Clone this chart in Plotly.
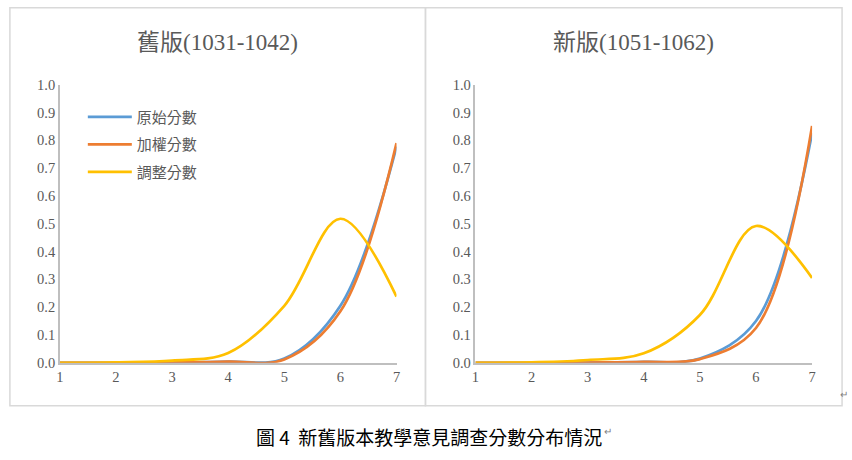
import plotly.graph_objects as go

# x 軸：分數 1~7
scores = [1, 2, 3, 4, 5, 6, 7]

# 舊版(1031-1042)
old_raw = [0.000, 0.000, 0.001, 0.004, 0.015, 0.205, 0.777]
old_weighted = [0.000, 0.000, 0.001, 0.004, 0.012, 0.185, 0.790]
old_adjusted = [0.000, 0.002, 0.008, 0.035, 0.205, 0.518, 0.238]

# 新版(1051-1062)
new_raw = [0.000, 0.000, 0.001, 0.003, 0.015, 0.150, 0.826]
new_weighted = [0.000, 0.000, 0.001, 0.003, 0.013, 0.125, 0.852]
new_adjusted = [0.000, 0.002, 0.010, 0.034, 0.172, 0.492, 0.305]

series_names = ["原始分數", "加權分數", "調整分數"]
series_colors = ["#5B9BD5", "#ED7D31", "#FFC000"]
panel_titles = ["舊版(1031-1042)", "新版(1051-1062)"]
y_ticks = [0.0, 0.1, 0.2, 0.3, 0.4, 0.5, 0.6, 0.7, 0.8, 0.9, 1.0]

W, H = 852, 460
SERIF = "Liberation Serif, Noto Sans CJK TC, serif"
GRAY = "#595959"


# 目標像素 -> paper 座標（含截圖縮放補償）
def px_x(p):
    return ((p - 4.1) / 0.9916) / W


def px_y(p):
    return 1 - ((p - 8.3) / 0.965) / H


fig = go.Figure()

panels = [
    (["x", "y"], [old_raw, old_weighted, old_adjusted], True),
    (["x2", "y2"], [new_raw, new_weighted, new_adjusted], False),
]
for (xa, ya), data, show in panels:
    for name, color, vals in zip(series_names, series_colors, data):
        fig.add_trace(go.Scatter(
            x=scores, y=vals, name=name, mode="lines",
            line=dict(color=color, width=2.7, shape="spline", smoothing=1.0),
            xaxis=xa, yaxis=ya, showlegend=show, legendgroup=name,
            hoverinfo="skip",
        ))

axis_common = dict(
    showgrid=False, zeroline=False, showline=True, linecolor="#BFBFBF", linewidth=1.5,
    ticks="", tickfont=dict(family=SERIF, size=14.5, color=GRAY),
)
ydom = [px_y(363), px_y(85)]
fig.update_layout(
    width=W, height=H,
    margin=dict(l=0, r=0, t=0, b=0),
    paper_bgcolor="white", plot_bgcolor="white",
    xaxis=dict(domain=[px_x(60), px_x(397)], range=[1, 7], dtick=1, anchor="y", **axis_common),
    yaxis=dict(domain=ydom, range=[0, 1.0], tickvals=y_ticks, tickformat=".1f", anchor="x", **axis_common),
    xaxis2=dict(domain=[px_x(476), px_x(813)], range=[1, 7], dtick=1, anchor="y2", **axis_common),
    yaxis2=dict(domain=ydom, range=[0, 1.0], tickvals=y_ticks, tickformat=".1f", anchor="x2", **axis_common),
    legend=dict(
        x=px_x(83), y=px_y(101), xanchor="left", yanchor="top",
        font=dict(family="Noto Sans CJK TC", size=15, color=GRAY),
        bgcolor="rgba(0,0,0,0)", tracegroupgap=5, traceorder="grouped", itemwidth=44,
    ),
    shapes=[
        dict(type="rect", xref="paper", yref="paper", x0=px_x(10), x1=px_x(426),
             y0=px_y(406), y1=px_y(8), line=dict(color="#D9D9D9", width=1.5)),
        dict(type="rect", xref="paper", yref="paper", x0=px_x(426), x1=px_x(843),
             y0=px_y(406), y1=px_y(8), line=dict(color="#D9D9D9", width=1.5)),
    ],
    annotations=[
        dict(text=panel_titles[0], x=px_x(218), y=px_y(43), xref="paper", yref="paper",
             xanchor="center", yanchor="middle",
             showarrow=False, font=dict(family=SERIF, size=23, color=GRAY)),
        dict(text=panel_titles[1], x=px_x(634), y=px_y(43), xref="paper", yref="paper",
             xanchor="center", yanchor="middle",
             showarrow=False, font=dict(family=SERIF, size=23, color=GRAY)),
        dict(text="圖 4  新舊版本教學意見調查分數分布情況", x=px_x(430), y=px_y(437),
             xref="paper", yref="paper", showarrow=False, xanchor="center", yanchor="middle",
             font=dict(family="Noto Sans CJK TC", size=19, color="#000000")),
        dict(text="↵", x=px_x(603), y=px_y(440), xref="paper", yref="paper", xanchor="left",
             showarrow=False, font=dict(size=10, color="#808080")),
        dict(text="↵", x=px_x(851), y=px_y(403), xref="paper", yref="paper", xanchor="right",
             showarrow=False, font=dict(size=10, color="#808080")),
    ],
)

fit_js = """
document.documentElement.style.margin = '0';
document.body.style.margin = '0';
document.body.style.overflow = 'hidden';
"""

fig.write_html("out.html", config={"displayModeBar": False}, post_script=fit_js)
